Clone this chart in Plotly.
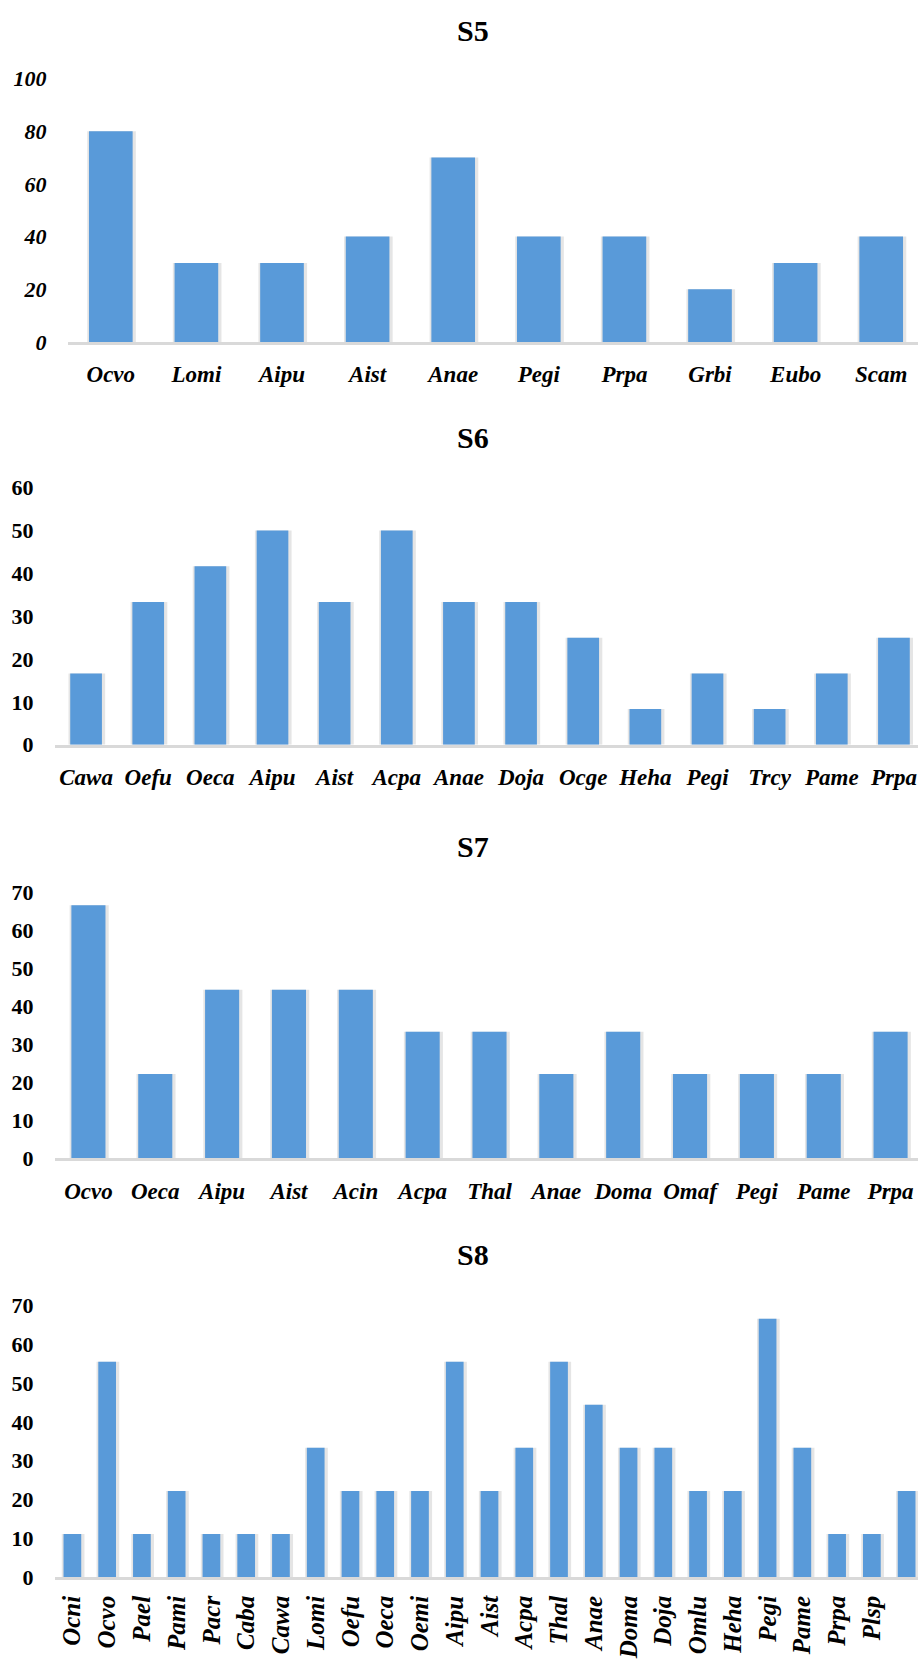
import plotly.graph_objects as go

# ---- data -------------------------------------------------------------
s5_species = ["Ocvo", "Lomi", "Aipu", "Aist", "Anae", "Pegi", "Prpa", "Grbi", "Eubo", "Scam"]
s5_values = [80, 30, 30, 40, 70, 40, 40, 20, 30, 40]

s6_species = ["Cawa", "Oefu", "Oeca", "Aipu", "Aist", "Acpa", "Anae", "Doja", "Ocge",
              "Heha", "Pegi", "Trcy", "Pame", "Prpa"]
s6_values = [16.67, 33.33, 41.67, 50, 33.33, 50, 33.33, 33.33, 25,
             8.33, 16.67, 8.33, 16.67, 25]

s7_species = ["Ocvo", "Oeca", "Aipu", "Aist", "Acin", "Acpa", "Thal", "Anae", "Doma",
              "Omaf", "Pegi", "Pame", "Prpa"]
s7_values = [66.67, 22.22, 44.44, 44.44, 44.44, 33.33, 33.33, 22.22, 33.33,
             22.22, 22.22, 22.22, 33.33]

s8_species = ["Ocni", "Ocvo", "Pael", "Pami", "Pacr", "Caba", "Cawa", "Lomi", "Oefu",
              "Oeca", "Oemi", "Aipu", "Aist", "Acpa", "Thal", "Anae", "Doma", "Doja",
              "Omlu", "Heha", "Pegi", "Pame", "Prpa", "Plsp", "Odal"]
s8_values = [11.11, 55.56, 11.11, 22.22, 11.11, 11.11, 11.11, 33.33, 22.22,
             22.22, 22.22, 55.56, 22.22, 33.33, 55.56, 44.44, 33.33, 33.33,
             22.22, 22.22, 66.67, 33.33, 11.11, 11.11, 22.22]

titles = ["S5", "S6", "S7", "S8"]
y_max = [100, 60, 70, 70]
y_step = [20, 10, 10, 10]

# ---- page geometry (pixels) ---------------------------------------------
W, H = 918, 1660
FONT = "Liberation Serif"
BAR = "#599ad9"
SHADOW = "rgba(0,0,0,0.10)"

panels = [
    # (species, values, left px, virtual right px, y0 px (value 0), ytop px (max), title y px)
    (s5_species, s5_values, 68, 924, 335, 67.5, 19),
    (s6_species, s6_values, 55, 925, 744, 483, 432),
    (s7_species, s7_values, 55, 924, 1164, 894, 847),
    (s8_species, s8_values, 55, 924, 1589, 1313.5, 1262),
]

fig = go.Figure()
layout = dict(
    width=W, height=H,
    margin=dict(l=0, r=0, t=0, b=0),
    paper_bgcolor="white", plot_bgcolor="white",
    showlegend=False,
    barmode="overlay",
    annotations=[],
)

BAR_W = 0.51

for i, (cats, vals, left, vright, y0, ytop, ty) in enumerate(panels):
    n = len(cats)
    cw = (vright - left) / n
    x_hi = -0.5 + (W - left) / cw
    xa = "x" if i == 0 else f"x{i + 1}"
    ya = "y" if i == 0 else f"y{i + 1}"
    # soft drop shadow behind each bar
    sh = 5 / cw
    fig.add_trace(go.Bar(
        x=list(range(n)), y=vals, xaxis=xa, yaxis=ya,
        marker=dict(color=SHADOW, line=dict(width=0)),
        width=BAR_W + sh, offset=-(BAR_W / 2) - sh * 0.35,
        hoverinfo="skip",
    ))
    fig.add_trace(go.Bar(
        x=list(range(n)), y=vals, xaxis=xa, yaxis=ya,
        marker=dict(color=BAR, line=dict(width=0)),
        width=BAR_W,
        hoverinfo="skip",
    ))
    key = "" if i == 0 else str(i + 1)
    layout[f"xaxis{key}"] = dict(
        domain=[left / W, 1],
        anchor=ya,
        range=[-0.5, x_hi],
        tickmode="array",
        tickvals=list(range(n)),
        ticktext=cats,
        tickangle=-90 if i == 3 else 0,
        showgrid=False, zeroline=False,
        showline=True, linecolor="#d9d9d9", linewidth=2.5,
        ticks="outside", ticklen=6 if i == 3 else 10, tickcolor="rgba(0,0,0,0)",
        tickfont=dict(family=FONT, size=25 if i == 3 else 23, color="black",
                      weight="bold", style="italic"),
    )
    layout[f"yaxis{key}"] = dict(
        domain=[1 - y0 / H, 1 - ytop / H],
        anchor=xa,
        range=[0, y_max[i]],
        dtick=y_step[i],
        tick0=0,
        showgrid=False, zeroline=False, showline=False,
        ticks="outside", ticklen=16, tickcolor="rgba(0,0,0,0)",
        tickfont=dict(family=FONT, size=22, color="black", weight="bold",
                      style="italic" if i == 0 else "normal"),
    )
    layout["annotations"].append(dict(
        text=titles[i], xref="paper", yref="paper",
        x=473 / W, y=1 - ty / H, xanchor="center", yanchor="middle",
        showarrow=False,
        font=dict(family=FONT, size=30, color="black", weight="bold"),
    ))

fig.update_layout(**layout)
fig.write_html("out.html")
